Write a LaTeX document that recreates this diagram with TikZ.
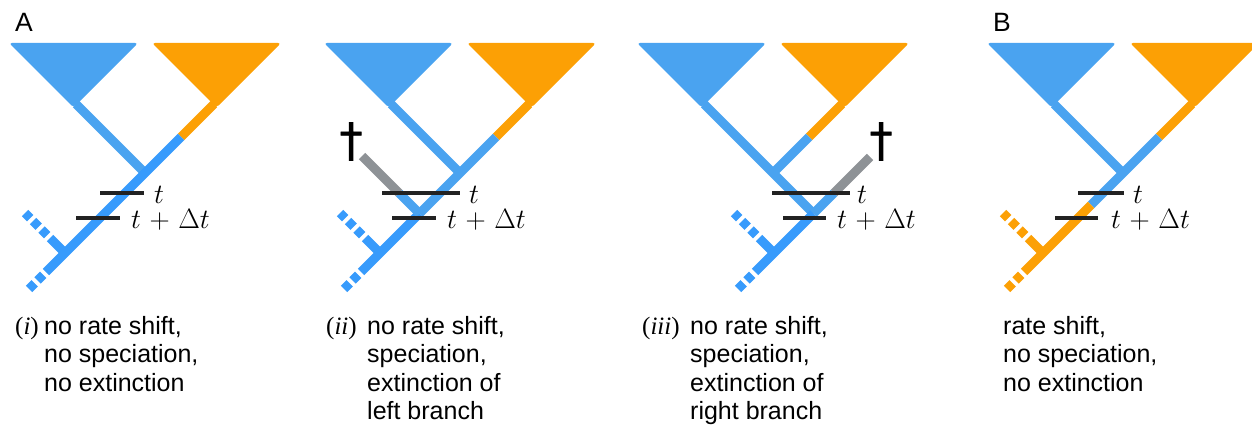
\RequirePackage{fix-cm}
\documentclass[tikz,border=0pt]{standalone}
\usepackage[no-math]{fontspec}
\setmainfont{Liberation Sans}
\newfontfamily\descfont{Liberation Sans}
\newfontfamily\romfont{Liberation Serif}
\newfontfamily\dagfont[FakeBold=1.2]{DejaVu Sans}
\definecolor{lightblue}{RGB}{74,163,240}
\definecolor{brightblue}{RGB}{55,155,252}
\definecolor{orng}{RGB}{252,160,5}
\definecolor{greyb}{RGB}{142,146,150}
\definecolor{barblack}{RGB}{34,34,34}
\newcommand\tdt{$t\mkern1.5mu+\mkern1.5mu\Delta t$}
\tikzset{
  br/.style={line width=9pt, line cap=butt},
  lb/.style={br, draw=lightblue},
  bb/.style={br, draw=brightblue},
  ob/.style={br, draw=orng},
  gb/.style={br, draw=greyb},
  tail/.style={dash pattern=on 8pt off 4pt, dash phase=8pt},
  bar/.style={line width=4pt, draw=barblack},
  tri/.style={rounded corners=3pt},
  desc/.style={anchor=base west, inner sep=0pt, font=\descfont\fontsize{25}{29}\selectfont},
  mlab/.style={anchor=base west, inner sep=0pt, font=\fontsize{28}{32}\selectfont},
  plab/.style={anchor=base west, inner sep=0pt, font=\fontsize{26.5}{30}\selectfont},
  dag/.style={inner sep=0pt, font=\dagfont\fontsize{46}{50}\selectfont},
}
\begin{document}
\begin{tikzpicture}[x=1pt,y=-1pt]
\useasboundingbox (0,0) rectangle (1252,428);

% ---------------- Panel A (i) ----------------
\begin{scope}
\fill[lightblue,tri] (9,43) -- (138,43) -- (73.5,107.5) -- cycle;
\fill[orng,tri] (152,43) -- (281,43) -- (216.5,107.5) -- cycle;
\coordinate (aLT) at (76,104);
\coordinate (aJ) at (145,173);
\coordinate (aRT) at (214,104);
\coordinate (aRC) at (181,137);
\coordinate (aK) at (65,253);
\coordinate (aK1) at (50,238);
\coordinate (aK2) at (25,213);
\coordinate (aE1) at (46,272);
\coordinate (aE2) at (27,291);
\draw[lb] (aLT) -- (aJ);
\draw[ob] (aRT) -- (aRC);
\draw[bb] (aRC) -- (aJ) -- (aK) -- (aE1);
\draw[bb] (aK) -- (aK1);
\draw[bb,tail] (aK1) -- (aK2);
\draw[bb,tail] (aE1) -- (aE2);
\draw[bar] (100,193) -- (144,193);
\draw[bar] (76,218) -- (120,218);
\node[mlab] (at) at (154,203) {$t$};
\node[mlab] (atd) at (131,228) {\tdt};
\node[plab] (labA) at (15,32) {A};
\node[desc] (ad0) at (15,334) {\romfont(\textit{i})};
\node[desc] (ad1) at (44,334) {no rate shift,};
\node[desc] (ad2) at (44,362.5) {no speciation,};
\node[desc] (ad3) at (44,391) {no extinction};
\end{scope}

% ---------------- Panel (ii) ----------------
\begin{scope}[shift={(315,0)}]
\fill[lightblue,tri] (9,43) -- (138,43) -- (73.5,107.5) -- cycle;
\fill[orng,tri] (152,43) -- (281,43) -- (216.5,107.5) -- cycle;
\coordinate (bLT) at (76,104);
\coordinate (bJ) at (145,173);
\coordinate (bRT) at (214,104);
\coordinate (bRC) at (181,137);
\coordinate (bS) at (104.5,213.5);
\coordinate (bG1) at (84,193);
\coordinate (bG2) at (47,156);
\coordinate (bK) at (65,253);
\coordinate (bK1) at (50,238);
\coordinate (bK2) at (25,213);
\coordinate (bE1) at (46,272);
\coordinate (bE2) at (27,291);
\draw[lb] (bLT) -- (bJ);
\draw[ob] (bRT) -- (bRC);
\draw[lb] (bRC) -- (bJ) -- (bS);
\draw[bb] (bS) -- (bK) -- (bE1);
\draw[lb] (bS) -- (bG1);
\draw[gb] (bG1) -- (bG2);
\draw[bb] (bK) -- (bK1);
\draw[bb,tail] (bK1) -- (bK2);
\draw[bb,tail] (bE1) -- (bE2);
\draw[bar] (67,193) -- (145,193);
\draw[bar] (77,218) -- (121,218);
\node[mlab] (bt) at (154,203) {$t$};
\node[mlab] (btd) at (132,228) {\tdt};
\node[dag] (bdag) at (36,141.5) {†};
\node[desc] (bd0) at (11,334) {\romfont(\textit{ii})};
\node[desc] (bd1) at (52,334) {no rate shift,};
\node[desc] (bd2) at (52,362.5) {speciation,};
\node[desc] (bd3) at (52,391) {extinction of};
\node[desc] (bd4) at (52,419.5) {left branch};
\end{scope}

% ---------------- Panel (iii) ----------------
\begin{scope}[shift={(628,0)}]
\fill[lightblue,tri] (9,43) -- (138,43) -- (73.5,107.5) -- cycle;
\fill[orng,tri] (152,43) -- (281,43) -- (216.5,107.5) -- cycle;
\coordinate (cLT) at (76,104);
\coordinate (cJ) at (145,173);
\coordinate (cRT) at (214,104);
\coordinate (cRC) at (181,137);
\coordinate (cS) at (185.5,213.5);
\coordinate (cG1) at (206,193);
\coordinate (cG2) at (242,157);
\coordinate (cK) at (146,253);
\coordinate (cK1) at (131,238);
\coordinate (cK2) at (106,213);
\coordinate (cE1) at (127,272);
\coordinate (cE2) at (108,291);
\draw[lb] (cLT) -- (cJ) -- (cS);
\draw[ob] (cRT) -- (cRC);
\draw[lb] (cRC) -- (cJ);
\draw[bb] (cS) -- (cK) -- (cE1);
\draw[lb] (cS) -- (cG1);
\draw[gb] (cG1) -- (cG2);
\draw[bb] (cK) -- (cK1);
\draw[bb,tail] (cK1) -- (cK2);
\draw[bb,tail] (cE1) -- (cE2);
\draw[bar] (144,193) -- (222,193);
\draw[bar] (155,218) -- (198,218);
\node[mlab] (ct) at (229,203) {$t$};
\node[mlab] (ctd) at (209,228) {\tdt};
\node[dag] (cdag) at (253,141.5) {†};
\node[desc] (cd0) at (14,334) {\romfont(\textit{iii})};
\node[desc] (cd1) at (62,334) {no rate shift,};
\node[desc] (cd2) at (62,362.5) {speciation,};
\node[desc] (cd3) at (62,391) {extinction of};
\node[desc] (cd4) at (62,419.5) {right branch};
\end{scope}

% ---------------- Panel B ----------------
\begin{scope}[shift={(978,0)}]
\fill[lightblue,tri] (9,43) -- (138,43) -- (73.5,107.5) -- cycle;
\fill[orng,tri] (152,43) -- (281,43) -- (216.5,107.5) -- cycle;
\coordinate (dLT) at (76,104);
\coordinate (dJ) at (145,173);
\coordinate (dRT) at (214,104);
\coordinate (dRC) at (181,137);
\coordinate (dC) at (113,205);
\coordinate (dK) at (65,253);
\coordinate (dK1) at (50,238);
\coordinate (dK2) at (25,213);
\coordinate (dE1) at (46,272);
\coordinate (dE2) at (27,291);
\draw[lb] (dLT) -- (dJ);
\draw[ob] (dRT) -- (dRC);
\draw[lb] (dRC) -- (dJ) -- (dC);
\draw[ob] (dC) -- (dK) -- (dE1);
\draw[ob] (dK) -- (dK1);
\draw[ob,tail] (dK1) -- (dK2);
\draw[ob,tail] (dE1) -- (dE2);
\draw[bar] (100,193) -- (146,193);
\draw[bar] (77,218) -- (120,218);
\node[mlab] (dt) at (155,203) {$t$};
\node[mlab] (dtd) at (133,228) {\tdt};
\node[plab] (labB) at (15,32) {B};
\node[desc] (dd1) at (25,334) {rate shift,};
\node[desc] (dd2) at (25,362.5) {no speciation,};
\node[desc] (dd3) at (25,391) {no extinction};
\end{scope}
\end{tikzpicture}
\end{document}
